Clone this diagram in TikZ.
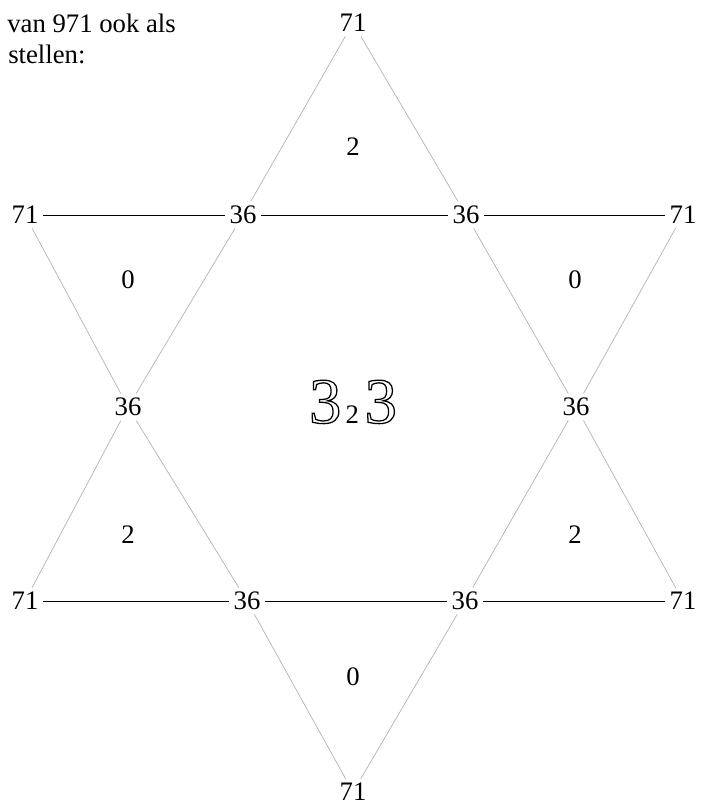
\documentclass[tikz,border=0pt]{standalone}
\usepackage{fontspec}
\setmainfont{Liberation Serif}
\newcommand\hollowdigit[1]{\special{pdf:literal direct 1 Tr 0.9 w}#1\special{pdf:literal direct 0 Tr}}

\begin{document}
\begin{tikzpicture}[x=0.025cm, y=-0.025cm,
  lbl/.style={inner sep=3pt, font=\fontsize{19}{23}\selectfont},
  txt/.style={inner sep=0pt, font=\fontsize{19}{23}\selectfont},
  bar/.style={black, line width=0.7pt},
  side/.style={black!30, line width=0.5pt}
]
  \useasboundingbox (0,0) rectangle (701,805);

  \node[txt, anchor=base west] (intro1) at (7,32) {van 971 ook als};
  \node[txt, anchor=base west] (intro2) at (8,63) {stellen:};

  \node[lbl] (ptop) at (353,23) {71};
  \node[lbl] (pul) at (25,215) {71};
  \node[lbl] (pur) at (683,215) {71};
  \node[lbl] (pll) at (25,601) {71};
  \node[lbl] (plr) at (683,601) {71};
  \node[lbl] (pbot) at (353,792) {71};

  \node[lbl] (iul) at (243,215) {36};
  \node[lbl] (iur) at (466,215) {36};
  \node[lbl] (iml) at (128,407) {36};
  \node[lbl] (imr) at (576,407) {36};
  \node[lbl] (ill) at (247,601) {36};
  \node[lbl] (ilr) at (465,601) {36};

  \node[txt] (ttop) at (353,147) {2};
  \node[txt] (tul) at (128,280) {0};
  \node[txt] (tur) at (575,280) {0};
  \node[txt] (tll) at (128,535) {2};
  \node[txt] (tlr) at (575,535) {2};
  \node[txt] (tbot) at (353,677) {0};

  \node[txt, anchor=base] (mid) at (353,423)
    {{\fontsize{46}{46}\selectfont\hollowdigit{3}}\kern3pt 2\kern4pt{\fontsize{46}{46}\selectfont\hollowdigit{3}}};

  \draw[bar] (pul) -- (iul);
  \draw[bar] (iul) -- (iur);
  \draw[bar] (iur) -- (pur);
  \draw[bar] (pll) -- (ill);
  \draw[bar] (ill) -- (ilr);
  \draw[bar] (ilr) -- (plr);

  \draw[side] (ptop) -- (iul);
  \draw[side] (iul) -- (iml);
  \draw[side] (iml) -- (pll);
  \draw[side] (ptop) -- (iur);
  \draw[side] (iur) -- (imr);
  \draw[side] (imr) -- (plr);
  \draw[side] (pul) -- (iml);
  \draw[side] (iml) -- (ill);
  \draw[side] (ill) -- (pbot);
  \draw[side] (pur) -- (imr);
  \draw[side] (imr) -- (ilr);
  \draw[side] (ilr) -- (pbot);
\end{tikzpicture}
\end{document}
